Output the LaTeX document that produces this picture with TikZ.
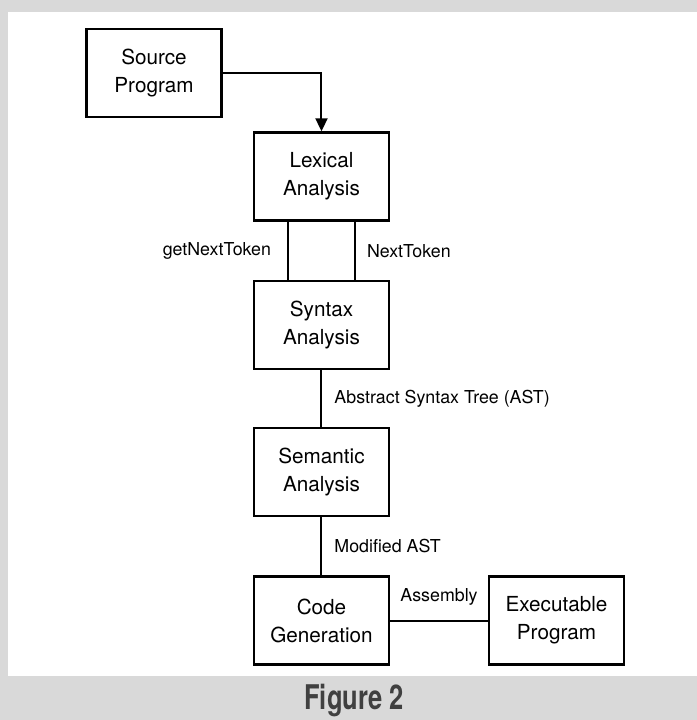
\documentclass[tikz,border=0pt]{standalone}
\usepackage{fontspec}
\setmainfont{TeX Gyre Heros}
\usetikzlibrary{arrows.meta}
\definecolor{framegray}{HTML}{D9D9D9}
\definecolor{captiongray}{HTML}{404040}
\begin{document}
\begin{tikzpicture}[x=0.5pt,y=-0.5pt,
        stage/.style={draw,line width=1.2pt,minimum width=67.5pt,minimum height=44pt,
            align=center,inner sep=0pt,font=\fontsize{10.35}{14}\selectfont},
        lbl/.style={inner sep=0pt,font=\fontsize{8.9}{11}\selectfont},
        link/.style={line width=1pt}]
                \fill[framegray] (0,0) rectangle (697,720);
                \fill[white] (8,12) rectangle (697,676);
                \useasboundingbox (0,0) rectangle (697,720);

                \node[stage] (src) at (154,73) {Source\\Program};
                \node[stage] (lex) at (321.5,176.5) {Lexical\\Analysis};
                \node[stage] (syn) at (321.5,325) {Syntax\\Analysis};
                \node[stage] (sem) at (321.5,472) {Semantic\\Analysis};
                \node[stage] (gen) at (321.5,620.5) {Code\\Generation};
                \node[stage] (exe) at (556.5,620.5) {Executable\\Program};

                \draw[link,-{Triangle[width=6pt,length=6.5pt]}] (src.east) -| (lex.north);
                \draw[link] ([xshift=-16.75pt]lex.south) to node[lbl,left=8pt] {getNextToken} ([xshift=-16.75pt]syn.north);
                \draw[link] ([xshift=16.75pt]lex.south) to node[lbl,right=5.5pt] {NextToken} ([xshift=16.75pt]syn.north);
                \draw[link] (syn) to node[lbl,right=6pt] {Abstract Syntax Tree (AST)} (sem);
                \draw[link] (sem) to node[lbl,right=6pt] {Modified AST} (gen);
                \draw[link] (gen) to node[lbl,above=7pt] {Assembly} (exe);

                \node[font=\fontsize{17}{20}\selectfont\bfseries,text=captiongray] (caption) at (354,701) {\scalebox{0.75}[1]{Figure 2}};
            \end{tikzpicture}
\end{document}
